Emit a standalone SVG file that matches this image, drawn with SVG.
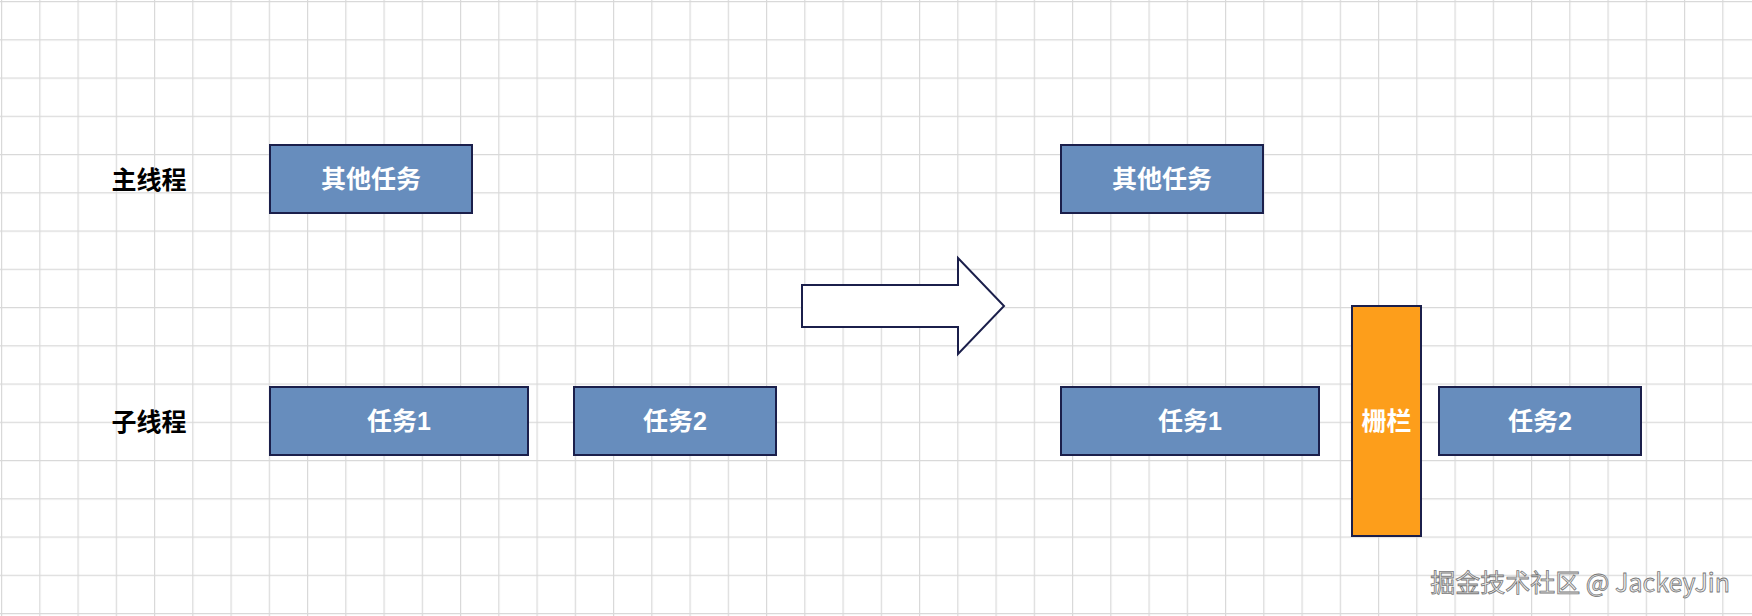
<svg xmlns="http://www.w3.org/2000/svg" width="1752" height="616" viewBox="0 0 1752 616">
<defs>
<pattern id="grid" x="1" y="1" width="38.25" height="38.25" patternUnits="userSpaceOnUse">
<path d="M0 0H38.25M0 0V38.25" fill="none" stroke="#d9d9d9" stroke-width="2.4"/>
</pattern>
</defs>
<style>
.box{fill:#678dbd;stroke:#1b1f4b;stroke-width:2}
.bar{fill:#fd9e1b;stroke:#1b1f4b;stroke-width:2}
.t{font-family:"Liberation Sans","Noto Sans CJK SC",sans-serif;font-weight:bold;font-size:25px;text-anchor:middle;dominant-baseline:central;fill:#fff}
.lbl{fill:#000}
.wm{font-family:"Noto Sans CJK SC",sans-serif;font-size:25px;fill:#eeeeee;stroke:#777;stroke-width:0.8;text-anchor:end}
</style>
<rect width="1752" height="616" fill="#fff"/>
<rect width="1752" height="616" fill="url(#grid)"/>
<g id="label-main"><text class="t lbl" x="149" y="180">主线程</text></g>
<g id="label-sub"><text class="t lbl" x="149" y="422">子线程</text></g>
<g id="l-other"><rect class="box" x="270" y="145" width="202" height="68"/><text class="t" x="371" y="179">其他任务</text></g>
<g id="l-task1"><rect class="box" x="270" y="387" width="258" height="68"/><text class="t" x="399" y="421">任务1</text></g>
<g id="l-task2"><rect class="box" x="574" y="387" width="202" height="68"/><text class="t" x="675" y="421">任务2</text></g>
<g id="connectors">
<path d="M802 285H958V258L1004 306L958 354V327H802Z" fill="#fff" stroke="#1b1f4b" stroke-width="2"/>
</g>
<g id="r-other"><rect class="box" x="1061" y="145" width="202" height="68"/><text class="t" x="1162" y="179">其他任务</text></g>
<g id="r-task1"><rect class="box" x="1061" y="387" width="258" height="68"/><text class="t" x="1190" y="421">任务1</text></g>
<g id="r-barrier"><rect class="bar" x="1352" y="306" width="69" height="230"/><text class="t" x="1386.5" y="421">栅栏</text></g>
<g id="r-task2"><rect class="box" x="1439" y="387" width="202" height="68"/><text class="t" x="1540" y="421">任务2</text></g>
<text class="wm" x="1730" y="592">掘金技术社区 @ JackeyJin</text>
</svg>
